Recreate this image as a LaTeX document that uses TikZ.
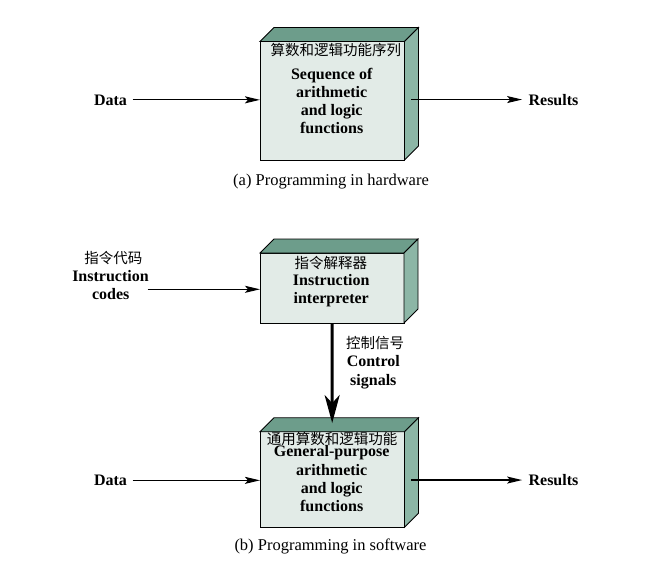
\documentclass[tikz,border=0pt]{standalone}
\usepackage{fontspec}
\setmainfont{Liberation Serif}
\newfontfamily\cjk{Noto Sans CJK SC}
\usetikzlibrary{arrows.meta,calc}
\definecolor{frontc}{HTML}{E2EBE7}
\definecolor{topc}{HTML}{6D9D8B}
\definecolor{sidec}{HTML}{8CB6A6}
\begin{document}
\begin{tikzpicture}[x=1pt,y=-1pt,
  front/.style={draw=black,fill=frontc,line width=0.8pt,inner sep=0pt,outer sep=0pt},
  topface/.style={draw=black,fill=topc,line width=0.8pt},
  sideface/.style={draw=black,fill=sidec,line width=0.8pt},
  lbl/.style={font=\bfseries\fontsize{16}{18}\selectfont,inner sep=0pt,anchor=base},
  captxt/.style={font=\fontsize{16.5}{19}\selectfont,inner sep=0pt,anchor=base},
  cn/.style={font=\cjk\fontsize{14.5}{17}\selectfont,inner sep=0pt},
  arr/.style={line width=1.2pt,-{Stealth[length=15pt,width=7pt,inset=3pt]}},
  bigarr/.style={line width=3pt,-{Stealth[length=28pt,width=15pt,inset=8pt]}}]
\useasboundingbox (0,0) rectangle (648,582);

% ---------- boxes (front faces)
\node[front,minimum width=144.5pt,minimum height=118.5pt] (b1) at (332.2,100.75) {};
\node[front,minimum width=144pt,minimum height=70pt] (b2) at (332,288) {};
\node[front,minimum width=144.5pt,minimum height=95.5pt] (b3) at (332.2,479.5) {};

% ---------- top and side faces
\foreach \b in {b1,b2,b3}{
  \filldraw[topface] (\b.north west) -- ++(14,-14) -- ([shift={(14,-14)}]\b.north east) -- (\b.north east) -- cycle;
  \filldraw[sideface] (\b.north east) -- ++(14,-14) -- ([shift={(14,-14)}]\b.south east) -- (\b.south east) -- cycle;
}

% ---------- box 1 texts
\node[cn] (b1c) at (335.8,50.3) {算数和逻辑功能序列};
\node[lbl] (b1l1) at (331.7,79.3) {Sequence of};
\node[lbl] (b1l2) at (331.7,97.3) {arithmetic};
\node[lbl] (b1l3) at (331.7,115.3) {and logic};
\node[lbl] (b1l4) at (331.7,133.2) {functions};

% ---------- box 2 texts
\node[cn] (b2c) at (330.8,263.3) {指令解释器};
\node[lbl] (b2l1) at (331.2,285) {Instruction};
\node[lbl] (b2l2) at (331.2,303.5) {interpreter};

% ---------- box 3 texts
\node[cn] (b3c) at (332,438.8) {通用算数和逻辑功能};
\node[lbl] (b3l1) at (331.7,456.7) {General-purpose};
\node[lbl] (b3l2) at (331.7,475) {arithmetic};
\node[lbl] (b3l3) at (331.7,493.3) {and logic};
\node[lbl] (b3l4) at (331.7,511.7) {functions};

% ---------- side labels
\node[lbl] (d1) at (110.5,105) {Data};
\node[lbl] (r1) at (553.5,105) {Results};
\node[lbl] (d3) at (110.5,485.5) {Data};
\node[lbl] (r3) at (553.5,485.5) {Results};

\node[cn] (icc) at (113.3,257.8) {指令代码};
\node[lbl] (ic1) at (110.5,281) {Instruction};
\node[lbl] (ic2) at (110.8,299.3) {codes};
\coordinate (icstart) at (147.7,289.3);

\node[cn] (csc) at (375,343) {控制信号};
\node[lbl] (cs1) at (373.3,366.7) {Control};
\node[lbl] (cs2) at (373.3,385) {signals};

% ---------- captions
\node[captxt] (capa) at (331,185) {(a) Programming in hardware};
\node[captxt] (capb) at (330.5,550) {(b) Programming in software};

% ---------- connectors
\draw[arr] ([xshift=5.6pt]d1.east) -- (d1.east -| b1.west);
\draw[arr] ([xshift=7pt]b1.east |- r1.west) -- ([xshift=-6.3pt]r1.west);
\draw[arr] (icstart) -- (icstart -| b2.west);
\draw[bigarr] (b2.south) -- ([yshift=8.7pt]b3.north);
\draw[arr] ([xshift=5.6pt]d3.east) -- (d3.east -| b3.west);
\draw[arr] ([xshift=7pt]b3.east |- r3.west) -- ([xshift=-6.3pt]r3.west);
\end{tikzpicture}
\end{document}
